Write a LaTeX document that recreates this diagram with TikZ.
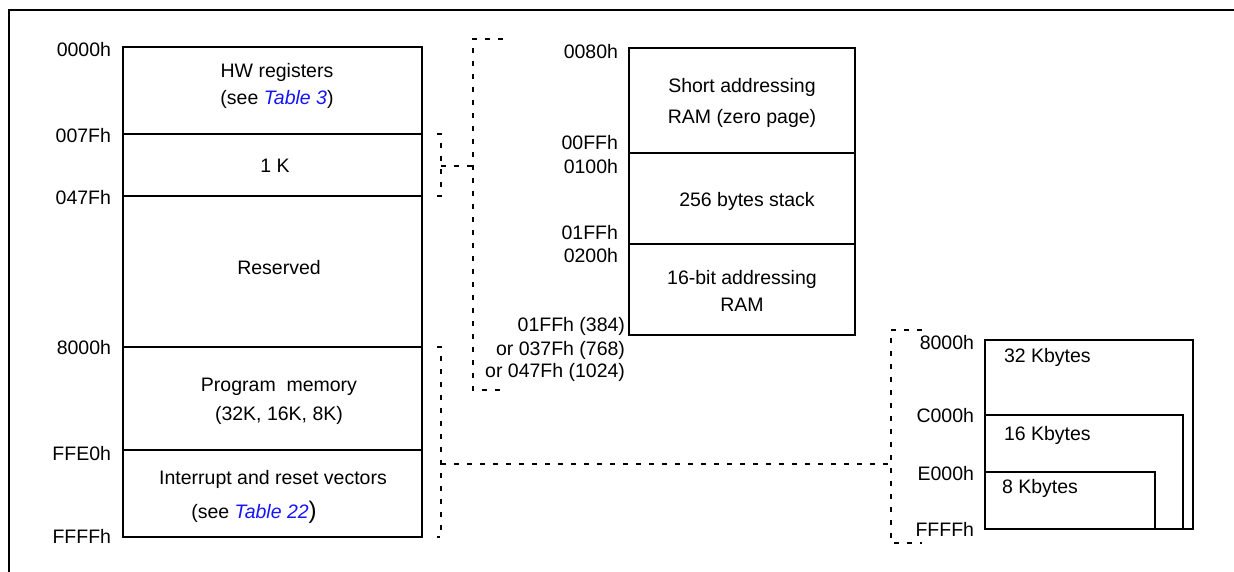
\documentclass[tikz,border=0pt]{standalone}
\usepackage{fontspec}
\setmainfont{Liberation Sans}
\definecolor{linkblue}{RGB}{20,20,255}
\begin{document}
\begin{tikzpicture}[x=1pt,y=-1pt,
  every node/.style={inner sep=0pt, outer sep=0pt, font=\fontsize{19.5}{23}\selectfont},
  seg/.style={draw, line width=2pt, minimum width=#1},
  addr/.style={anchor=east},
  txt/.style={align=center},
  ltxt/.style={anchor=west},
  dsh/.style={line width=1.8pt, dash pattern=on 5pt off 8pt},
  frame/.style={line width=2pt}]
\useasboundingbox (0,0) rectangle (1234,572);
% frame
\draw[frame] (9,580) -- (9,10) -- (1240,10);

% ---------- left memory map ----------
\node[seg=299, minimum height=87] (hw)   at (272.5,90.5) {};
\node[seg=299, minimum height=62] (k1)   at (272.5,165) {};
\node[seg=299, minimum height=151] (res) at (272.5,271.5) {};
\node[seg=299, minimum height=103] (prog) at (272.5,398.5) {};
\node[seg=299, minimum height=87] (vec)  at (272.5,493.5) {};

\node[txt] (thw) at (277,86) {HW registers\\[4pt](see \textcolor{linkblue}{\textit{Table 3}})};
\node (tk1) at (275,166) {1 K};
\node (tres) at (279,268) {Reserved};
\node[txt] (tprog) at (279,401) {Program\ \ memory\\[6pt](32K, 16K, 8K)};
\node[txt] (tvec1) at (273,479) {Interrupt and reset vectors};
\node (tvec2) at (254,512) {(see \textcolor{linkblue}{\textit{Table 22}}{\fontsize{24}{24}\selectfont)}};

\node[addr] (a0000) at (111,50) {0000h};
\node[addr] (a007F) at (111,136) {007Fh};
\node[addr] (a047F) at (111,198) {047Fh};
\node[addr] (a8000) at (111,348) {8000h};
\node[addr] (aFFE0) at (111,454) {FFE0h};
\node[addr] (aFFFF) at (111,536) {FFFFh};

% ---------- middle RAM map ----------
\node[seg=226, minimum height=105] (zp)    at (742,100.5) {};
\node[seg=226, minimum height=91]  (stack) at (742,198.5) {};
\node[seg=226, minimum height=91]  (ram16) at (742,289.5) {};

\node[txt] (tzp) at (742,103) {Short addressing\\[8pt]RAM (zero page)};
\node (tstack) at (747,201) {256 bytes stack};
\node[txt] (tram) at (742,291) {16-bit addressing\\[4pt]RAM};

\node[addr] (b0080) at (618,52) {0080h};
\node[addr] (b00FF) at (618,143) {00FFh};
\node[addr] (b0100) at (618,167) {0100h};
\node[addr] (b01FF) at (618,233) {01FFh};
\node[addr] (b0200) at (618,256) {0200h};
\node[addr] (bend1) at (625,326) {01FFh (384)};
\node[addr] (bend2) at (625,350) {or 037Fh (768)};
\node[addr] (bend3) at (625,372) {or 047Fh (1024)};

% ---------- right program memory sizes ----------
\node[seg=208, minimum height=189] (k32) at (1089,434.5) {};
\node[seg=198, minimum height=114] (k16) at (1084,472) {};
\node[seg=170, minimum height=57]  (k8)  at (1070,500.5) {};

\node[ltxt] (t32) at (1004,357) {32 Kbytes};
\node[ltxt] (t16) at (1004,435) {16 Kbytes};
\node[ltxt] (t8)  at (1002,488) {8 Kbytes};

\node[addr] (c8000) at (974,343) {8000h};
\node[addr] (cC000) at (974,416) {C000h};
\node[addr] (cE000) at (974,474) {E000h};
\node[addr] (cFFFF) at (974,529) {FFFFh};

% ---------- dashed brackets ----------
\coordinate (b1t) at (441,134);
\coordinate (b1b) at (441,196);
\coordinate (b1m) at (441,166);
\coordinate (b2t) at (473,39);
\coordinate (b2b) at (473,390);
\coordinate (b2m) at (473,166);
\coordinate (b2te) at (503,39);
\coordinate (b2be) at (503,390);
\coordinate (b3t) at (441,347);
\coordinate (b3b) at (441,537);
\coordinate (b3m) at (441,464);
\coordinate (b4t) at (891,330);
\coordinate (b4b) at (891,543);
\coordinate (b4m) at (891,464);
\coordinate (b4te) at (922,330);
\coordinate (b4be) at (922,543);

\draw[dsh] (k1.north east) ++(15,0) -- (b1t) -- (b1b) -- ++(-4,0);
\draw[dsh] (b1m) -- (b2m);
\draw[dsh] (b2te) -- (b2t) -- (b2b) -- (b2be);
\draw[dsh] (prog.north east) ++(15,0) -- (b3t) -- (b3b) -- ++(-4,0);
\draw[dsh] (b3m) -- (b4m);
\draw[dsh] (b4te) -- (b4t) -- (b4b) -- (b4be);
\end{tikzpicture}
\end{document}
